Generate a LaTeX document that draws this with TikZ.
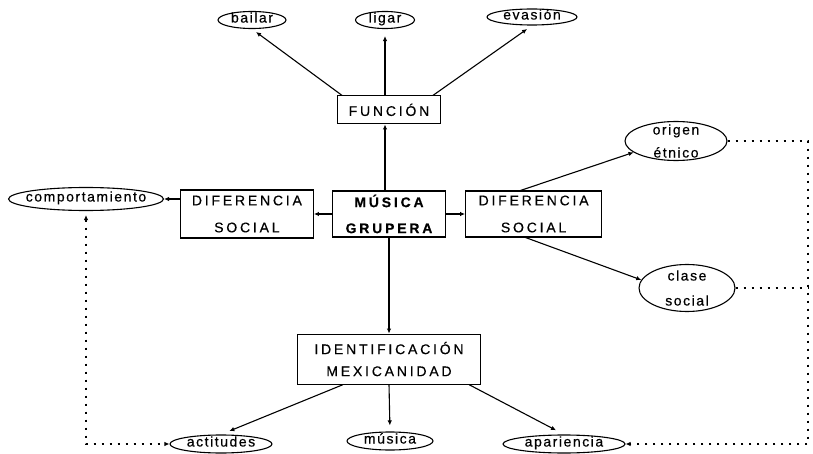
\documentclass[tikz,border=0pt]{standalone}
\usepackage{fontspec}
\setmainfont{Liberation Sans}
\newfontfamily\boxfont[LetterSpace=20,FakeBold=0.4]{Liberation Sans}
\newfontfamily\ovalfont[LetterSpace=11,FakeBold=0.4]{Liberation Sans}
\usetikzlibrary{arrows.meta, positioning, shapes.geometric}

\begin{document}
\begin{tikzpicture}[
    x=1pt, y=-1pt,
    >={Latex[length=5pt,width=4.5pt]},
    box/.style={rectangle, draw, line width=1.1pt, inner sep=0pt, align=center,
                font=\boxfont\fontsize{14}{27}\selectfont},
    oval/.style={ellipse, draw, line width=1.1pt, inner sep=0pt,
                 text height=7pt, text depth=2pt, font=\ovalfont\fontsize{14}{16}\selectfont},
    ovaltwo/.style={ellipse, draw, line width=1.1pt, inner xsep=0pt, inner ysep=-5pt,
                    align=center, font=\ovalfont\fontsize{14}{23}\selectfont},
    arrow/.style={->, line width=1.1pt},
    dotline/.style={line width=2pt, dash pattern=on 2pt off 6pt},
]
\useasboundingbox (0,0) rectangle (813,454);

% Boxes
\node[box, minimum width=113pt, minimum height=46pt,
      font=\boxfont\bfseries\fontsize{14}{26}\selectfont] (grupera) at (389,214) {MÚSICA\\GRUPERA};
\node[box, minimum width=103pt, minimum height=28pt, above=66pt of grupera] (funcion) {FUNCIÓN};
\node[box, minimum width=133pt, minimum height=48pt, left=18pt of grupera] (difizq) {DIFERENCIA\\SOCIAL};
\node[box, minimum width=136pt, minimum height=46pt, right=19pt of grupera] (difder) {DIFERENCIA\\SOCIAL};
\node[box, minimum width=183pt, minimum height=50pt, below=96pt of grupera,
      font=\boxfont\fontsize{14}{22}\selectfont] (ident) {IDENTIFICACIÓN\\MEXICANIDAD};

% Ovals
\node[oval, minimum width=68pt, minimum height=17pt] (bailar) at (252,20) {bailar};
\node[oval, minimum width=59pt, minimum height=17pt] (ligar) at (385,20) {ligar};
\node[oval, minimum width=90pt, minimum height=16pt] (evasion) at (532,17) {evasión};
\node[oval, minimum width=155pt, minimum height=23pt, inner xsep=-7pt] (comport) at (86,199) {comportamiento};
\node[ovaltwo, minimum width=102pt, minimum height=39pt] (origen) at (676,141) {origen\\étnico};
\node[ovaltwo, minimum width=96pt, minimum height=47pt,
      font=\ovalfont\fontsize{14}{25}\selectfont] (clase) at (687,288) {clase\\social};
\node[oval, minimum width=102pt, minimum height=18pt] (actitudes) at (221,444) {actitudes};
\node[oval, minimum width=86pt, minimum height=18pt] (musica) at (390,441) {música};
\node[oval, minimum width=122pt, minimum height=18pt] (apariencia) at (564,444) {apariencia};
\coordinate (rail) at (808,0);

% Arrows up
\draw[arrow] (grupera.north -| ligar) -- (funcion.south -| ligar);
\draw[arrow, shorten >=5pt] ([xshift=5pt]funcion.north west) -- (bailar.south);
\draw[arrow, shorten >=7pt] (funcion.north -| ligar) -- (ligar.south);
\draw[arrow, shorten >=6pt] ([xshift=-8pt]funcion.north east) -- (evasion.south);

% Arrows sideways
\draw[arrow] (grupera) -- (difizq);
\draw[arrow] (grupera) -- (difder);
\draw[arrow] (difizq.west |- comport.east) -- (comport.east);
\draw[arrow] ([xshift=-13pt]difder.north) -- (origen.195);
\draw[arrow] ([xshift=-8pt]difder.south) -- (clase.170);

% Arrows down
\draw[arrow] (grupera) -- (ident);
\draw[arrow, shorten >=9pt] ([xshift=-46pt]ident.south) -- (actitudes.north);
\draw[arrow, shorten >=6pt] (ident.south) -- (musica.north);
\draw[arrow, shorten >=9pt] ([xshift=-12pt]ident.south east) -- (apariencia.north);

% Dotted links
\draw[dotline, <->, shorten <=4pt] (comport.south) |- (actitudes.west);
\draw[dotline, ->] (origen.east) -- (origen.east -| rail) -- (rail |- apariencia.east) -- (apariencia.east);
\draw[dotline] (clase.east) -- (clase.east -| rail);

\end{tikzpicture}
\end{document}
